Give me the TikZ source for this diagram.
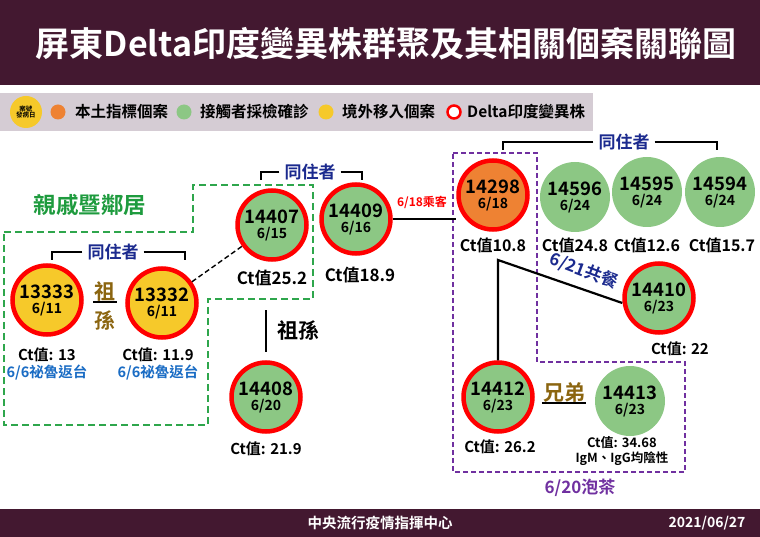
\documentclass[tikz,border=0pt]{standalone}
\usepackage{fontspec}
\setmainfont{Noto Sans CJK TC}[BoldFont={Noto Sans CJK TC Bold}]
\usetikzlibrary{positioning}

\definecolor{bannerpurple}{HTML}{431830}
\definecolor{legendgrey}{HTML}{D5CCD4}
\definecolor{casegreen}{HTML}{8CC784}
\definecolor{caseyellow}{HTML}{F6C92A}
\definecolor{caseorange}{HTML}{EE8233}
\definecolor{ringred}{HTML}{FF0000}
\definecolor{navy}{HTML}{1B2A8E}
\definecolor{kinblue}{HTML}{1A6CC4}
\definecolor{kingreen}{HTML}{1E9B3E}
\definecolor{dashgreen}{HTML}{2EA64C}
\definecolor{teapurple}{HTML}{7030A0}
\definecolor{kinbrown}{HTML}{8B6510}

\newcommand{\casenum}[2]{#1\\[-4pt]{\fontsize{14}{15}\selectfont #2}}

\tikzset{
  case/.style={circle, minimum size=69pt, inner sep=0pt, align=center, line width=4.5pt,
    draw=ringred, fill=casegreen, font=\bfseries\fontsize{18.5}{19}\selectfont},
  contact/.style={case, draw=none, minimum size=70pt},
  ctlabel/.style={inner sep=1pt, font=\bfseries\fontsize{15}{16}\selectfont},
  bigct/.style={inner sep=1pt, font=\bfseries\fontsize{17}{18}\selectfont},
  triplabel/.style={inner sep=1pt, text=kinblue, font=\bfseries\fontsize{14.5}{15}\selectfont},
  cohab/.style={inner sep=5pt, text=navy, font=\bfseries\fontsize{17}{18}\selectfont},
  bracket/.style={line width=1.2pt},
  keydot/.style={circle, minimum size=15pt, inner sep=0pt},
  keytext/.style={anchor=west, inner sep=0pt, font=\bfseries\fontsize{15.5}{16}\selectfont},
  relation/.style={inner sep=1pt, font=\bfseries\fontsize{21}{22}\selectfont}
}

\begin{document}
\begin{tikzpicture}[x=1pt,y=-1pt]
\useasboundingbox (0,0) rectangle (760,537);

% banners
\fill[bannerpurple] (0,0) rectangle (760,85);
\fill[legendgrey] (0,93) rectangle (593,131);
\fill[bannerpurple] (0,509) rectangle (760,537);

\node[text=white, font=\bfseries\fontsize{34}{36}\selectfont] (title) at (386,44) {屏東Delta印度變異株群聚及其相關個案關聯圖};
\node[text=white, font=\bfseries\fontsize{14.5}{15}\selectfont] (center) at (380,523) {中央流行疫情指揮中心};
\node[text=white, font=\bfseries\fontsize{14}{15}\selectfont] (date) at (707,523) {2021/06/27};

% legend
\node[circle, fill=caseyellow, minimum size=32pt, inner sep=0pt, align=center, font=\bfseries\fontsize{6.5}{7}\selectfont] (keyicon) at (26,112) {案號\\[-1pt]發病日};
\node[keydot, fill=caseorange] (keylocal) at (58,112) {};
\node[keytext] (keylocaltext) at (75,112) {本土指標個案};
\node[keydot, fill=casegreen] (keycontact) at (184,112) {};
\node[keytext] (keycontacttext) at (200,112) {接觸者採檢確診};
\node[keydot, fill=caseyellow] (keyimport) at (326,112) {};
\node[keytext] (keyimporttext) at (342,112) {境外移入個案};
\node[keydot, minimum size=13pt, draw=ringred, line width=2.5pt, fill=white] (keydelta) at (454,112) {};
\node[keytext] (keydeltatext) at (467,112) {Delta印度變異株};

% groups
\draw[dashgreen, line width=1.5pt, dash pattern=on 7pt off 4pt] (4,232) -- (193,232) -- (193,185) -- (313,185) -- (313,299) -- (208,299) -- (208,425) -- (4,425) -- cycle;
\draw[teapurple, line width=1.3pt, dash pattern=on 5pt off 3pt] (453,153) -- (537,153) -- (537,362) -- (685,362) -- (685,472) -- (453,472) -- cycle;

\node[relation, text=kingreen, font=\bfseries\fontsize{22.5}{23}\selectfont] (kin) at (90,205) {親戚暨鄰居};
\node[relation, text=teapurple, font=\bfseries\fontsize{17}{18}\selectfont] (tea) at (580,488) {6/20泡茶};

% cases
\node[case, fill=caseyellow] (c13333) at (47,300) {\casenum{13333}{6/11}};
\node[case, fill=caseyellow] (c13332) at (162,303) {\casenum{13332}{6/11}};
\node[case] (c14407) at (272,225) {\casenum{14407}{6/15}};
\node[case] (c14409) at (356,219) {\casenum{14409}{6/16}};
\node[case] (c14408) at (266,397) {\casenum{14408}{6/20}};
\node[case, fill=caseorange] (c14298) at (493,195) {\casenum{14298}{6/18}};
\node[contact] (c14596) at (575,197) {\casenum{14596}{6/24}};
\node[contact] (c14595) at (647,192) {\casenum{14595}{6/24}};
\node[contact] (c14594) at (720,192) {\casenum{14594}{6/24}};
\node[case] (c14410) at (659,298) {\casenum{14410}{6/23}};
\node[case] (c14412) at (498,397) {\casenum{14412}{6/23}};
\node[contact] (c14413) at (630,401) {\casenum{14413}{6/23}};

% ct values
\node[ctlabel] (ct13333) at (47,355) {Ct值: 13};
\node[triplabel] (trip13333) at (47,373) {6/6祕魯返台};
\node[ctlabel] (ct13332) at (158,355) {Ct值: 11.9};
\node[triplabel] (trip13332) at (158,373) {6/6祕魯返台};
\node[bigct] (ct14407) at (272,278) {Ct值25.2};
\node[bigct] (ct14409) at (360,275) {Ct值18.9};
\node[ctlabel] (ct14408) at (266,449) {Ct值: 21.9};
\node[ctlabel, font=\bfseries\fontsize{16}{17}\selectfont] (ct14298) at (493,245) {Ct值10.8};
\node[ctlabel, font=\bfseries\fontsize{16}{17}\selectfont] (ct14596) at (575,245) {Ct值24.8};
\node[ctlabel, font=\bfseries\fontsize{16}{17}\selectfont] (ct14595) at (647,245) {Ct值12.6};
\node[ctlabel, font=\bfseries\fontsize{16}{17}\selectfont] (ct14594) at (722,245) {Ct值15.7};
\node[ctlabel] (ct14410) at (680,349) {Ct值: 22};
\node[ctlabel] (ct14412) at (500,447) {Ct值: 26.2};
\node[ctlabel, font=\bfseries\fontsize{13}{14}\selectfont] (ct14413) at (622,443) {Ct值: 34.68};
\node[ctlabel, font=\bfseries\fontsize{12.5}{13}\selectfont] (igg14413) at (622,459) {IgM、IgG均陰性};

% cohabitants
\node[cohab] (co13333) at (113,252) {同住者};
\draw[bracket] (co13333.west) -| (52,260);
\draw[bracket] (co13333.east) -| (185,260);
\node[cohab] (co14407) at (310,172) {同住者};
\draw[bracket] (co14407.west) -| (261,180);
\draw[bracket] (co14407.east) -| (362,180);
\node[cohab] (co14298) at (624,142) {同住者};
\draw[bracket] (co14298.west) -| (503,150);
\draw[bracket] (co14298.east) -| (717,150);

% relations
\node[relation, text=kinbrown] (grand1) at (105,292) {祖};
\node[relation, text=kinbrown] (grand2) at (105,320) {孫};
\draw[line width=1.8pt] ([yshift=1pt]grand1.south west) -- ([yshift=1pt]grand1.south east);

\node[relation] (grand3) at (298,331) {祖孫};
\coordinate (gtop) at (266,310);
\coordinate (gbot) at (266,352);
\draw[line width=2pt] (gtop) -- (gbot);

\node[relation, text=kinbrown] (bro) at (564,392) {兄弟};
\draw[line width=2pt] (bro.south west) -- (bro.south east);

% connectors
\draw[line width=1.4pt, dash pattern=on 5pt off 3pt] (c13332) -- (c14407);
\draw[line width=2pt] (c14409.east) -- (c14409.east -| c14298.west);
\node[inner sep=1pt, text=ringred, font=\bfseries\fontsize{12}{13}\selectfont] (ride) at (422,202) {6/18乘客};

\coordinate (meal) at (498,260);
\draw[line width=2.2pt] (c14412.north) -- (meal) -- ([yshift=-5pt]c14410.west);
\node[inner sep=1pt, rotate=-21, text=navy, font=\bfseries\fontsize{17}{18}\selectfont] (mealtext) at (584,271) {6/21共餐};

\end{tikzpicture}
\end{document}
